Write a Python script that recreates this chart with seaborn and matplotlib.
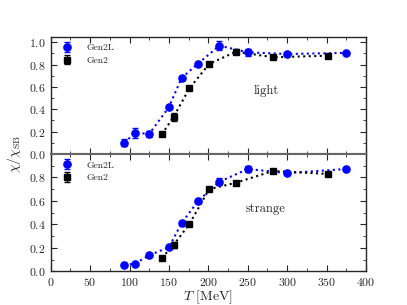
import matplotlib
matplotlib.use("Agg")
import matplotlib.pyplot as plt
import seaborn as sns
from matplotlib.ticker import MultipleLocator

# temperatures (MeV)
T_gen2l = [93.5, 107, 125, 150, 166, 187, 214, 250, 300, 375]
T_gen2 = [141, 156, 176, 201, 235, 282, 352]

# light quark susceptibility ratio
light_gen2l = [0.10, 0.19, 0.18, 0.42, 0.68, 0.81, 0.97, 0.91, 0.895, 0.905]
light_gen2l_err = [0.03, 0.045, 0.025, 0.02, 0.02, 0.015, 0.04, 0.03, 0.015, 0.01]
light_gen2 = [0.176, 0.334, 0.588, 0.806, 0.916, 0.866, 0.88]
light_gen2_err = [0.01, 0.035, 0.015, 0.01, 0.025, 0.01, 0.01]

# strange quark susceptibility ratio
strange_gen2l = [0.054, 0.066, 0.137, 0.205, 0.41, 0.60, 0.763, 0.872, 0.837, 0.872]
strange_gen2l_err = [0.01, 0.015, 0.01, 0.01, 0.015, 0.015, 0.03, 0.025, 0.01, 0.01]
strange_gen2 = [0.114, 0.225, 0.404, 0.70, 0.755, 0.855, 0.83]
strange_gen2_err = [0.01, 0.025, 0.01, 0.01, 0.01, 0.01, 0.01]

sns.set_style("ticks")
plt.rcParams['font.family'] = ['cmr10', 'DejaVu Serif']
plt.rcParams['mathtext.fontset'] = 'cm'
plt.rcParams['axes.formatter.use_mathtext'] = True
plt.rcParams['xtick.direction'] = 'in'
plt.rcParams['ytick.direction'] = 'in'

fig, axes = plt.subplots(2, 1, figsize=(4.07, 3.05), dpi=100, sharex=True)
fig.subplots_adjust(left=0.1246, right=0.8993, bottom=0.1105, top=0.8797, hspace=0)

panels = [
    (axes[0], light_gen2l, light_gen2l_err, light_gen2, light_gen2_err, "light", 0.56, 1.05),
    (axes[1], strange_gen2l, strange_gen2l_err, strange_gen2, strange_gen2_err, "strange", 0.53, 1.0),
]

for ax, yl, el, y2, e2, name, ypos, ytop in panels:
    # dotted connecting lines
    ax.plot(T_gen2l, yl, ':', color='blue', lw=1.5, zorder=2)
    ax.plot(T_gen2, y2, ':', color='black', lw=1.5, zorder=2)
    ax.errorbar(T_gen2l, yl, yerr=el, fmt='o', color='blue', ms=5.2,
                capsize=2, elinewidth=1, label='Gen2L', zorder=3)
    ax.errorbar(T_gen2, y2, yerr=e2, fmt='s', color='black', ms=5,
                capsize=2, elinewidth=1, label='Gen2', zorder=3)
    ax.text(273, ypos, name, fontsize=9, ha='center', va='center')
    ax.set_xlim(0, 400)
    ax.set_ylim(0, ytop)
    ax.xaxis.set_major_locator(MultipleLocator(50))
    ax.xaxis.set_minor_locator(MultipleLocator(25))
    ax.yaxis.set_major_locator(MultipleLocator(0.2))
    ax.yaxis.set_minor_locator(MultipleLocator(0.1))
    ax.tick_params(which='both', top=True, right=True, labelsize=8.5)
    ax.tick_params(which='major', length=4)
    ax.tick_params(which='minor', length=2)
    ax.legend(loc='upper left', fontsize=7, frameon=False, handletextpad=1.0,
              borderaxespad=0.3, labelspacing=0.4)
    for s in ax.spines.values():
        s.set_linewidth(1)

axes[0].spines['bottom'].set_color('0.4')
axes[0].spines['bottom'].set_linewidth(1.5)
axes[1].spines['top'].set_color('0.4')
axes[1].spines['top'].set_linewidth(1.5)

axes[1].set_yticks([0.0, 0.2, 0.4, 0.6, 0.8])
axes[1].set_xlabel(r'$T$ [MeV]', fontsize=10, labelpad=0)
fig.text(0.035, 0.495, r'$\chi/\chi_{\rm SB}$', rotation=90, fontsize=10,
         ha='center', va='center')

fig.savefig('out.png', dpi=100)
